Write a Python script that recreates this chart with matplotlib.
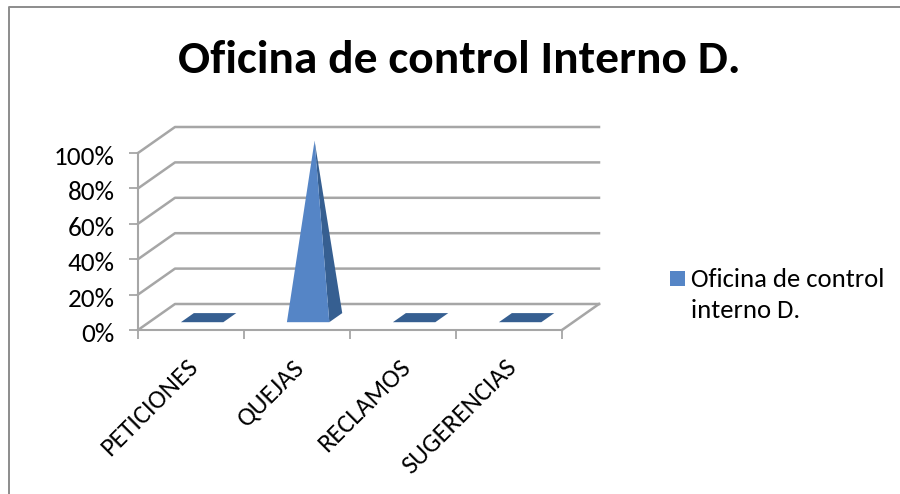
import matplotlib
matplotlib.use("Agg")
import matplotlib.pyplot as plt
from matplotlib.lines import Line2D
from matplotlib.patches import Polygon, Rectangle
from matplotlib.transforms import ScaledTranslation

categories = ["PETICIONES", "QUEJAS", "RECLAMOS", "SUGERENCIAS"]
values = [0.0, 1.0, 0.0, 0.0]
y_ticks = [0.0, 0.2, 0.4, 0.6, 0.8, 1.0]
y_labels = ["0%", "20%", "40%", "60%", "80%", "100%"]
series_name = "Oficina de control\ninterno D."
title = "Oficina de control Interno D."

W, H = 900, 494
GRID = "#a6a6a6"
FRONT = "#5585c6"
SIDE = "#365f91"

# oblique depth of the 3D box, in data units per unit of depth
DX = 37 / 106
DY = 26 / 177
D0, D1 = 0.3, 0.65
HALF = 0.2

plt.rcParams["font.family"] = ["Carlito", "Lato", "DejaVu Sans"]
fig = plt.figure(figsize=(W / 100, H / 100), dpi=100)
ax = fig.add_axes([138 / W, 1 - 330 / H, 424 / W, 177 / H])
ax.set_xlim(-0.5, 3.5)
ax.set_ylim(0, 1)
ax.patch.set_visible(False)


def proj(x, y, d):
    return (x + d * DX, y + d * DY)


# walls
for v in y_ticks:
    ax.plot(*zip(proj(-0.5, v, 0), proj(-0.5, v, 1), proj(3.5, v, 1)),
            color=GRID, lw=1.8, clip_on=False, zorder=1)
ax.plot(*zip(proj(3.5, 0, 0), proj(3.5, 0, 1)), color=GRID, lw=1.8, clip_on=False, zorder=1)

# pyramids
for i, v in enumerate(values):
    fl = proj(i - HALF, 0, D0)
    fr = proj(i + HALF, 0, D0)
    br = proj(i + HALF, 0, D1)
    bl = proj(i - HALF, 0, D1)
    apex = proj(i, v, (D0 + D1) / 2)
    if v == 0:
        ax.add_patch(Polygon([fl, fr, br, bl], fc=SIDE, ec="none", clip_on=False, zorder=3))
    else:
        ax.add_patch(Polygon([fr, br, apex], fc=SIDE, ec="none", clip_on=False, zorder=3))
        ax.add_patch(Polygon([fl, fr, apex], fc=FRONT, ec="none", clip_on=False, zorder=4))

# axes
for s in ["top", "right"]:
    ax.spines[s].set_visible(False)
for s in ["left", "bottom"]:
    ax.spines[s].set_color(GRID)
    ax.spines[s].set_linewidth(1.5)
ax.set_yticks(y_ticks, y_labels, fontsize=19.5, color="black")
ax.set_xticks([-0.5, 0.5, 1.5, 2.5, 3.5], [])
ax.set_xticks(range(len(categories)), categories, minor=True, rotation=45, ha="right",
              rotation_mode="anchor", fontsize=19)
ax.tick_params(axis="both", which="major", length=6.5, width=1.3, color=GRID)
ax.tick_params(axis="y", pad=10.5)
ax.tick_params(axis="x", which="minor", length=0, pad=18)

# nudge tick labels onto the reference positions (pixels at dpi 100)
for lab in ax.get_yticklabels():
    lab.set_transform(lab.get_transform() + ScaledTranslation(0, -2.5 / 100, fig.dpi_scale_trans))
for lab in ax.get_xticklabels(minor=True):
    lab.set_transform(lab.get_transform() + ScaledTranslation(-5 / 100, 0, fig.dpi_scale_trans))

fig.text(459 / W, 1 - 60 / H, title, fontsize=34.2, fontweight="bold", ha="center", va="center")

# legend
fig.add_artist(Rectangle((670 / W, 1 - 286 / H), 15 / W, 15 / H, fc=FRONT, ec="none",
                         transform=fig.transFigure))
fig.text(691 / W, 1 - 295 / H, series_name, fontsize=19.2, ha="left", va="center", linespacing=1.47)

# chart frame
fig.add_artist(Line2D([9 / W, 9 / W, 1], [0, 1 - 7 / H, 1 - 7 / H], color="#8c8c8c", lw=1.4,
                      transform=fig.transFigure))

fig.savefig("out.png", dpi=100)
